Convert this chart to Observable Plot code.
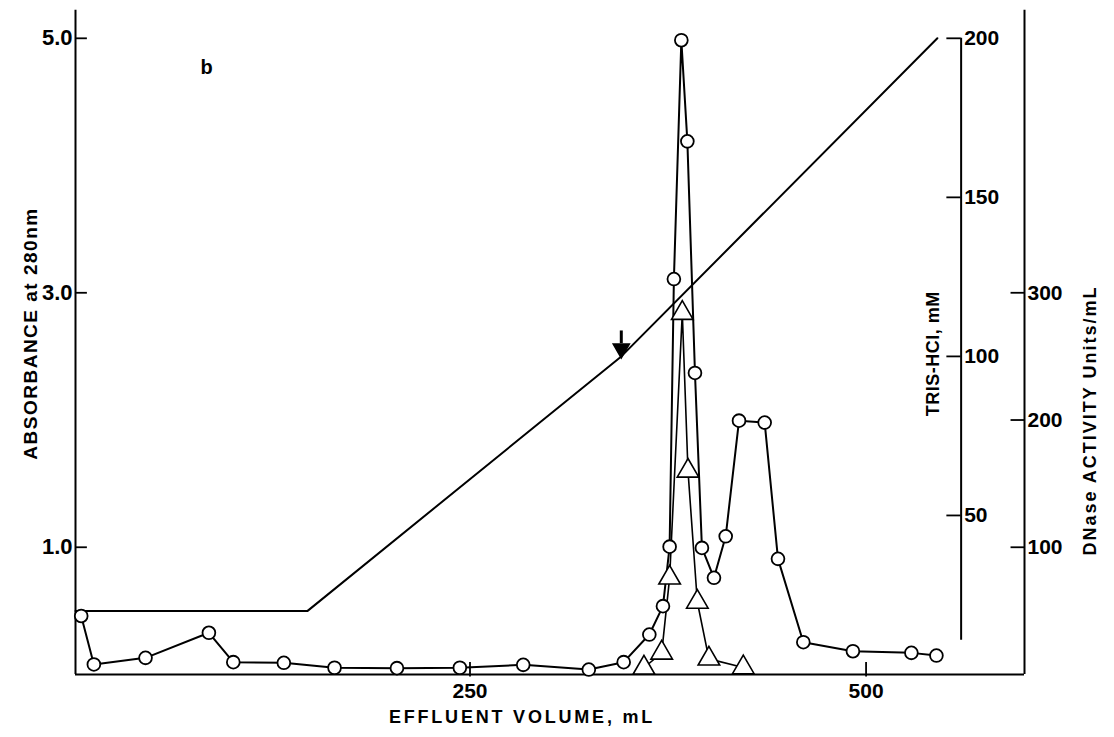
<!DOCTYPE html>
<html>
<head>
<meta charset="utf-8">
<script src="https://cdn.jsdelivr.net/npm/d3@7"></script>
<script src="https://cdn.jsdelivr.net/npm/@observablehq/plot@0.6"></script>
<style>
  html, body { margin: 0; padding: 0; background: #fff; }
  #chart svg { display: block; }
</style>
</head>
<body>
<div id="chart"></div>
<script>
// Absorbance at 280 nm (open circles)
const circleVolume = [4.6, 12.6, 45.2, 85.2, 100.6, 132.5, 164.5, 203.9, 243.6, 283.6, 325, 347, 363.2, 371.8, 376, 378.7, 383.4, 387.2, 392, 396.4, 404, 411.4, 419.8, 436, 444.4, 460.4, 491.7, 528.6, 544.4];
const circleAbs = [0.46, 0.079, 0.131, 0.328, 0.097, 0.092, 0.053, 0.05, 0.053, 0.076, 0.039, 0.097, 0.314, 0.537, 1.005, 3.108, 4.985, 4.19, 2.37, 0.995, 0.76, 1.086, 1.995, 1.98, 0.909, 0.254, 0.183, 0.17, 0.149];

// DNase activity, Units/mL (open triangles)
const triVolume = [359.8, 371, 376, 384, 387.6, 393.5, 400.8, 422.5];
const triUnits = [5.3, 17, 76, 284, 160, 57, 12.3, 5.5];

// Tris-HCl gradient, mM
const trisVolume = [1, 147.5, 345.5, 545];
const trisMM = [20, 20, 100, 200];

// Axis ticks
const xTicks = [250, 500];
const absTicks = [1.0, 3.0, 5.0];
const trisTicks = [50, 100, 150, 200];
const dnaseTicks = [100, 200, 300];

// Arrow marking the gradient change
const arrowVolume = [345.5];

const circles = circleVolume.map((v, i) => ({v, a: circleAbs[i]}));
const tris = triVolume.map((v, i) => ({v, u: triUnits[i]}));
const gradient = trisVolume.map((v, i) => ({v, mm: trisMM[i]}));

const TRIS_PER_ABS = 40;   // 200 mM aligns with 5.0
const DNASE_PER_ABS = 100; // 100 U/mL aligns with 1.0
const trisAxisX = 560;
const font = "Liberation Sans, Arial, Helvetica, sans-serif";

const chart = Plot.plot({
  width: 1114,
  height: 737,
  marginLeft: 75,
  marginRight: 90,
  marginTop: 6,
  marginBottom: 63,
  x: {domain: [1, 600], axis: null},
  y: {domain: [0, 5.25], axis: null},
  style: {fontFamily: font, background: "white", color: "black"},
  marks: [
    // frame axes
    Plot.ruleX([1], {y1: 0, y2: 5.22, stroke: "black", strokeWidth: 2}),
    Plot.ruleX([600], {y1: 0, y2: 5.22, stroke: "black", strokeWidth: 2}),
    Plot.ruleY([0], {x1: 1, x2: 600, stroke: "black", strokeWidth: 2}),
    // left ticks & labels
    Plot.ruleY(absTicks, {x1: 1, x2: 8.5, stroke: "black", strokeWidth: 1.8}),
    Plot.text(absTicks, {x: 1, y: d => d, text: d => d.toFixed(1), textAnchor: "end", dx: -3, fontSize: 22, fontWeight: "bold"}),
    // bottom ticks & labels
    Plot.ruleX(xTicks, {y1: -0.02, y2: 0.095, stroke: "black", strokeWidth: 1.8}),
    Plot.text(xTicks, {x: d => d, y: 0, text: d => String(d), dy: 17, fontSize: 21, fontWeight: "bold"}),
    // Tris axis
    Plot.ruleX([trisAxisX], {y1: 0.27, y2: 200 / TRIS_PER_ABS, stroke: "black", strokeWidth: 2}),
    Plot.ruleY(trisTicks, {y: d => d / TRIS_PER_ABS, x1: trisAxisX - 9, x2: trisAxisX, stroke: "black", strokeWidth: 1.8}),
    Plot.text(trisTicks, {x: trisAxisX, y: d => d / TRIS_PER_ABS, text: d => String(d), textAnchor: "start", dx: 3, fontSize: 21, fontWeight: "bold"}),
    // DNase axis
    Plot.ruleY(dnaseTicks, {y: d => d / DNASE_PER_ABS, x1: 591.5, x2: 600, stroke: "black", strokeWidth: 1.8}),
    Plot.text(dnaseTicks, {x: 600, y: d => d / DNASE_PER_ABS, text: d => String(d), textAnchor: "start", dx: 3, fontSize: 21, fontWeight: "bold"}),
    // gradient
    Plot.line(gradient, {x: "v", y: d => d.mm / TRIS_PER_ABS, stroke: "black", strokeWidth: 2}),
    // arrow
    Plot.ruleX(arrowVolume, {y1: 2.6, y2: 2.7, stroke: "black", strokeWidth: 3}),
    Plot.dot(arrowVolume, {x: d => d, y: 2.56, symbol: "triangle", rotate: 180, r: 6, fill: "black", stroke: "black"}),
    // DNase activity
    Plot.line(tris, {x: "v", y: d => d.u / DNASE_PER_ABS, stroke: "black", strokeWidth: 1.6}),
    // Absorbance
    Plot.line(circles, {x: "v", y: "a", stroke: "black", strokeWidth: 2}),
    Plot.dot(tris, {x: "v", y: d => d.u / DNASE_PER_ABS, symbol: "triangle", r: 8, fill: "white", stroke: "black", strokeWidth: 1.6}),
    Plot.dot(circles, {x: "v", y: "a", r: 6.4, fill: "white", stroke: "black", strokeWidth: 1.8}),
    // titles
    Plot.text(["EFFLUENT VOLUME, mL"], {frameAnchor: "bottom", textAnchor: "middle", dx: -28, dy: 48, fontSize: 18, fontWeight: "bold"}),
    Plot.text(["ABSORBANCE at 280nm"], {frameAnchor: "left", textAnchor: "middle", dx: -45, dy: -7, rotate: -90, fontSize: 19, fontWeight: "bold"}),
    Plot.text(["TRIS-HCl, mM"], {x: trisAxisX, y: 2.52, textAnchor: "middle", dx: -28, rotate: -90, fontSize: 18, fontWeight: "bold"}),
    Plot.text(["DNase ACTIVITY Units/mL"], {frameAnchor: "right", textAnchor: "middle", dx: 66, dy: 80, rotate: -90, fontSize: 18, fontWeight: "bold"}),
    Plot.text(["b"], {frameAnchor: "top-left", dx: 125, dy: 53, fontSize: 20, fontWeight: "bold"})
  ]
});

document.getElementById("chart").appendChild(chart);

// letter spacing for titles
d3.select(chart).selectAll("text").each(function() {
  const t = this.textContent;
  if (t === "EFFLUENT VOLUME, mL") this.setAttribute("letter-spacing", "2.8");
  if (t === "ABSORBANCE at 280nm") this.setAttribute("letter-spacing", "1.5");
  if (t === "DNase ACTIVITY Units/mL") this.setAttribute("letter-spacing", "2");
  if (t === "TRIS-HCl, mM") this.setAttribute("letter-spacing", "0.5");
});
</script>
</body>
</html>
